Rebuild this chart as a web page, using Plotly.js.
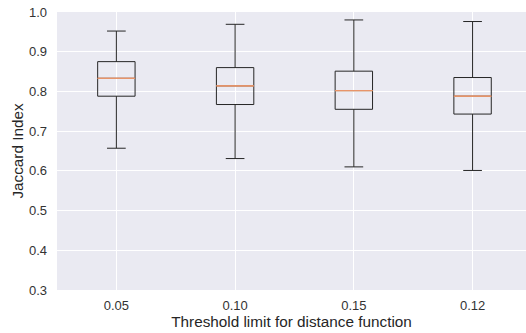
<!DOCTYPE html>
<html><head><meta charset="utf-8">
<script src="https://cdn.plot.ly/plotly-3.0.1.min.js"></script>
<style>html,body{margin:0;padding:0;background:#fff}</style>
</head><body>
<div id="chart" style="width:526px;height:333px"></div>
<script>
const categories = ['0.05', '0.10', '0.15', '0.12'];
const lowerWhisker = [0.657, 0.631, 0.610, 0.601];
const q1 = [0.788, 0.767, 0.755, 0.743];
const median = [0.833, 0.814, 0.802, 0.788];
const q3 = [0.875, 0.860, 0.851, 0.835];
const upperWhisker = [0.952, 0.969, 0.980, 0.976];
const yTicks = [0.3, 0.4, 0.5, 0.6, 0.7, 0.8, 0.9, 1.0];

const boxTrace = {
  type: 'box', x: categories, q1: q1, median: median, q3: q3,
  lowerfence: lowerWhisker, upperfence: upperWhisker,
  line: {color: '#262626', width: 1}, fillcolor: 'rgba(0,0,0,0)',
  whiskerwidth: 0.5, boxpoints: false, hoverinfo: 'skip', showlegend: false
};
const medianTrace = {
  type: 'box', x: categories, q1: median, median: median, q3: median,
  lowerfence: median, upperfence: median,
  line: {color: '#e8956a', width: 1}, fillcolor: 'rgba(0,0,0,0)',
  whiskerwidth: 0, boxpoints: false, hoverinfo: 'skip', showlegend: false
};

const tickFont = {family: 'Liberation Sans, Arial, sans-serif', size: 13, color: '#333333'};
const titleFont = {family: 'Liberation Sans, Arial, sans-serif', size: 15.3, color: '#262626'};
const layout = {
  width: 526, height: 333,
  margin: {l: 57, r: 0, t: 12, b: 43},
  paper_bgcolor: '#ffffff', plot_bgcolor: '#eaeaf2',
  font: tickFont, boxmode: 'overlay', boxgap: 0.55, showlegend: false,
  xaxis: {type: 'category', range: [-0.5, 3.45], showgrid: true, gridcolor: '#ffffff', gridwidth: 1,
    zeroline: false, showline: false, ticks: '', tickfont: tickFont, ticklabelstandoff: 6,
    title: {text: 'Threshold limit for distance function', font: titleFont, standoff: 0}},
  yaxis: {range: [0.3, 1.0], tickvals: yTicks, tickformat: '.1f', showgrid: true, gridcolor: '#ffffff',
    gridwidth: 1, zeroline: false, showline: false, ticks: '', tickfont: tickFont, ticklabelstandoff: 9,
    title: {text: 'Jaccard Index', font: titleFont, standoff: 1}}
};
Plotly.newPlot('chart', [boxTrace, medianTrace], layout, {staticPlot: true, displayModeBar: false});
</script>
</body></html>
